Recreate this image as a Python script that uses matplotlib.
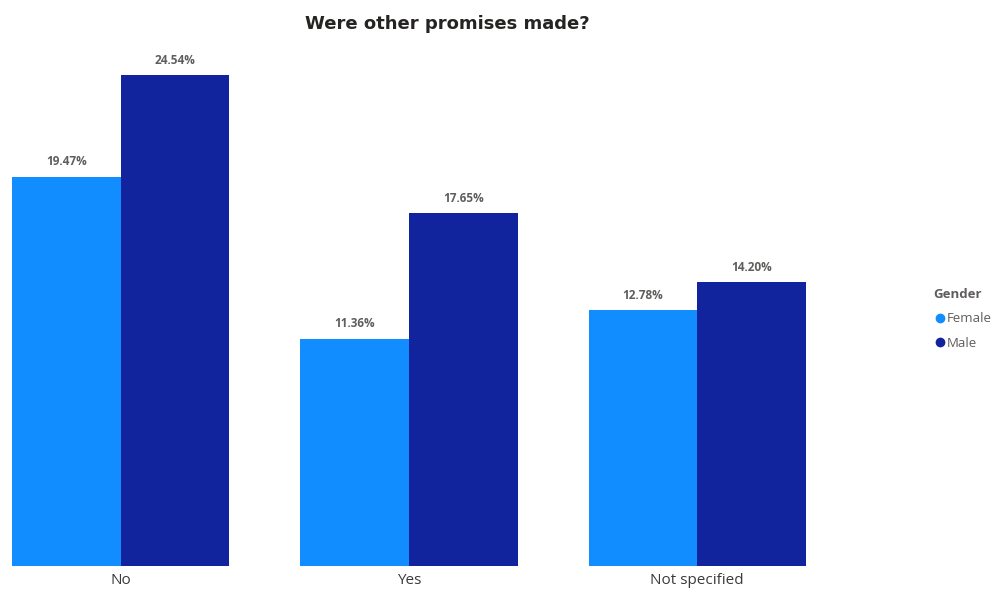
import numpy as np
import matplotlib
matplotlib.use("Agg")
import matplotlib.pyplot as plt
from matplotlib.lines import Line2D

categories = ["No", "Yes", "Not specified"]
female = [19.47, 11.36, 12.78]
male = [24.54, 17.65, 14.20]

FEMALE_COLOR = "#118DFF"
MALE_COLOR = "#12239E"
LABEL_GREY = "#605E5C"

W, H = 997, 591
fig = plt.figure(figsize=(W / 100, H / 100), dpi=100)

# axes placed in pixel terms: bars run from x=12 to x=806, baseline at y=566
ax = fig.add_axes([12 / W, (H - 566) / H, 794 / W, 506 / H])

x = np.arange(len(categories))
bw = 0.377
b_f = ax.bar(x - bw / 2, female, bw, color=FEMALE_COLOR, label="Female")
b_m = ax.bar(x + bw / 2, male, bw, color=MALE_COLOR, label="Male")

for bars in (b_f, b_m):
    ax.bar_label(bars, fmt="%.2f%%", padding=6, fontsize=8.5,
                 color=LABEL_GREY, fontweight="bold", family="Open Sans")

ax.set_xlim(-bw, len(categories) - 1 + bw)
ax.set_ylim(0, 25.3)
ax.set_xticks(x)
ax.set_xticklabels(categories, fontsize=11, color="#3b3a39", family="Open Sans")
ax.tick_params(axis="x", length=0, pad=5)
ax.set_yticks([])
for s in ax.spines.values():
    s.set_visible(False)

fig.text(447 / W, 1 - 24 / H, "Were other promises made?", ha="center", va="center",
         fontsize=13, fontweight="bold", color="#252423", family="DejaVu Sans")

handles = [
    Line2D([], [], marker="o", linestyle="", markersize=6, color=FEMALE_COLOR),
    Line2D([], [], marker="o", linestyle="", markersize=6, color=MALE_COLOR),
]
leg = fig.legend(handles, ["Female", "Male"], title="Gender", loc="upper left",
                 bbox_to_anchor=(928 / W, 1 - 283 / H), frameon=False,
                 fontsize=9.5, title_fontproperties={"weight": "bold", "size": 9.5, "family": "Open Sans"},
                 handletextpad=0.0, handlelength=1.0, labelspacing=0.85, borderaxespad=0)
leg._legend_box.align = "left"
for t in leg.get_texts():
    t.set_color(LABEL_GREY)
    t.set_family("Open Sans")
leg.get_title().set_color(LABEL_GREY)

fig.savefig("out.png", dpi=100)
